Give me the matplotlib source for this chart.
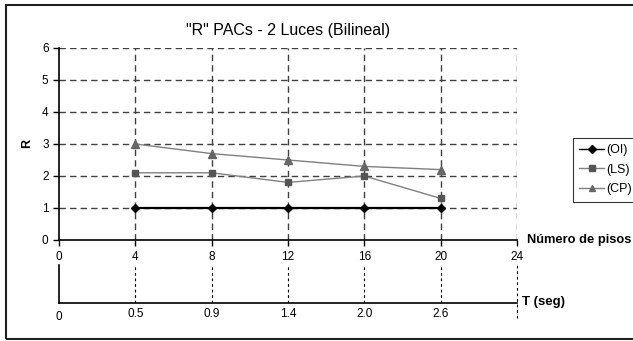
import matplotlib.pyplot as plt
from matplotlib.patches import Rectangle
from matplotlib.lines import Line2D

plt.rcParams['font.family'] = ['Liberation Sans', 'DejaVu Sans']

# number of floors and the matching periods
pisos = [4, 8, 12, 16, 20]
periodos = ['0.5', '0.9', '1.4', '2.0', '2.6']

r_oi = [1.0, 1.0, 1.0, 1.0, 1.0]
r_ls = [2.1, 2.1, 1.8, 2.0, 1.3]
r_cp = [3.0, 2.7, 2.5, 2.3, 2.2]

W, H = 633, 341
fig = plt.figure(figsize=(W / 100, H / 100), dpi=100)

def fx(px):
    return px / W

def fy(py):
    return 1 - py / H

# outer frame
fig.patches.append(Rectangle((fx(6), fy(339)), fx(640) - fx(6), fy(5) - fy(339),
                             transform=fig.transFigure, fill=False,
                             edgecolor='#202020', lw=1.5))

grid_kw = dict(color='#404040', lw=1.0, linestyle=(0, (4.6, 3.0)))

ax = fig.add_axes([fx(59), fy(240), fx(517) - fx(59), fy(48) - fy(240)])
ax.set_xlim(0, 24)
ax.set_ylim(0, 6)
for yv in range(1, 7):
    ax.axhline(yv, zorder=1, **grid_kw)
for xv in range(4, 25, 4):
    ax.axvline(xv, zorder=1, **grid_kw)

ax.plot(pisos, r_oi, color='black', lw=1.6, marker='D', ms=4.5,
        mfc='black', mec='black', zorder=4, label='(OI)')
ax.plot(pisos, r_ls, color='#808080', lw=1.0, marker='s', ms=5,
        mfc='#555555', mec='#555555', zorder=3, label='(LS)')
ax.plot(pisos, r_cp, color='#808080', lw=1.0, marker='^', ms=5.5,
        mfc='#666666', mec='#666666', zorder=3, label='(CP)')

for s in ['top', 'right']:
    ax.spines[s].set_visible(False)
for s in ['left', 'bottom']:
    ax.spines[s].set_linewidth(1.2)
    ax.spines[s].set_zorder(5)
ax.set_xticks(range(0, 25, 4))
ax.set_yticks(range(0, 7))
ax.tick_params(axis='both', labelsize=8.5, length=4, width=1, direction='out')
ax.tick_params(axis='x', pad=4)
ax.set_ylabel('R', fontsize=9, fontweight='bold', labelpad=6)
ax.set_title('"R" PACs - 2 Luces (Bilineal)', fontsize=11.5, pad=9)

fig.text(fx(527), fy(240), 'Número de pisos', fontsize=9.3, fontweight='bold',
         va='center', ha='left')

# period axis below
ax2 = fig.add_axes([fx(59), fy(302.5), fx(517) - fx(59), fy(265) - fy(302.5)])
ax2.set_xlim(0, 24)
ax2.set_ylim(0, 1)
ax2.patch.set_alpha(0)
for xv in pisos:
    ax2.axvline(xv, color='black', lw=0.8, linestyle=(0, (2.5, 2.5)))
ax2.axvline(24, ymin=-0.4, ymax=1, clip_on=False, color='black', lw=0.8,
            linestyle=(0, (2.5, 2.5)))
for s in ['top', 'right']:
    ax2.spines[s].set_visible(False)
ax2.spines['left'].set_linewidth(1.2)
ax2.spines['bottom'].set_linewidth(1.2)
ax2.set_yticks([])
ax2.set_xticks(pisos)
ax2.set_xticklabels(periodos)
ax2.tick_params(axis='x', labelsize=8.5, length=0, pad=4)
ax2.text(0, -0.38, '0', fontsize=8.5, ha='center', va='center', transform=ax2.transData)
fig.text(fx(522), fy(302), 'T (seg)', fontsize=9.5, fontweight='bold',
         va='center', ha='left')

handles = [
    Line2D([], [], color='black', lw=1.0, marker='D', ms=4, mfc='black', mec='black'),
    Line2D([], [], color='#808080', lw=1.0, marker='s', ms=4.5, mfc='#555555', mec='#555555'),
    Line2D([], [], color='#808080', lw=1.0, marker='^', ms=5, mfc='#666666', mec='#666666'),
]
leg = fig.legend(handles, ['(OI)', '(LS)', '(CP)'], loc='upper left',
                 bbox_to_anchor=(fx(573), fy(138)), fontsize=9,
                 frameon=True, fancybox=False, edgecolor='black',
                 handlelength=2.0, handletextpad=0.15, borderpad=0.5,
                 labelspacing=0.6, borderaxespad=0)
leg.get_frame().set_linewidth(0.8)

fig.savefig('out.png', dpi=100)
